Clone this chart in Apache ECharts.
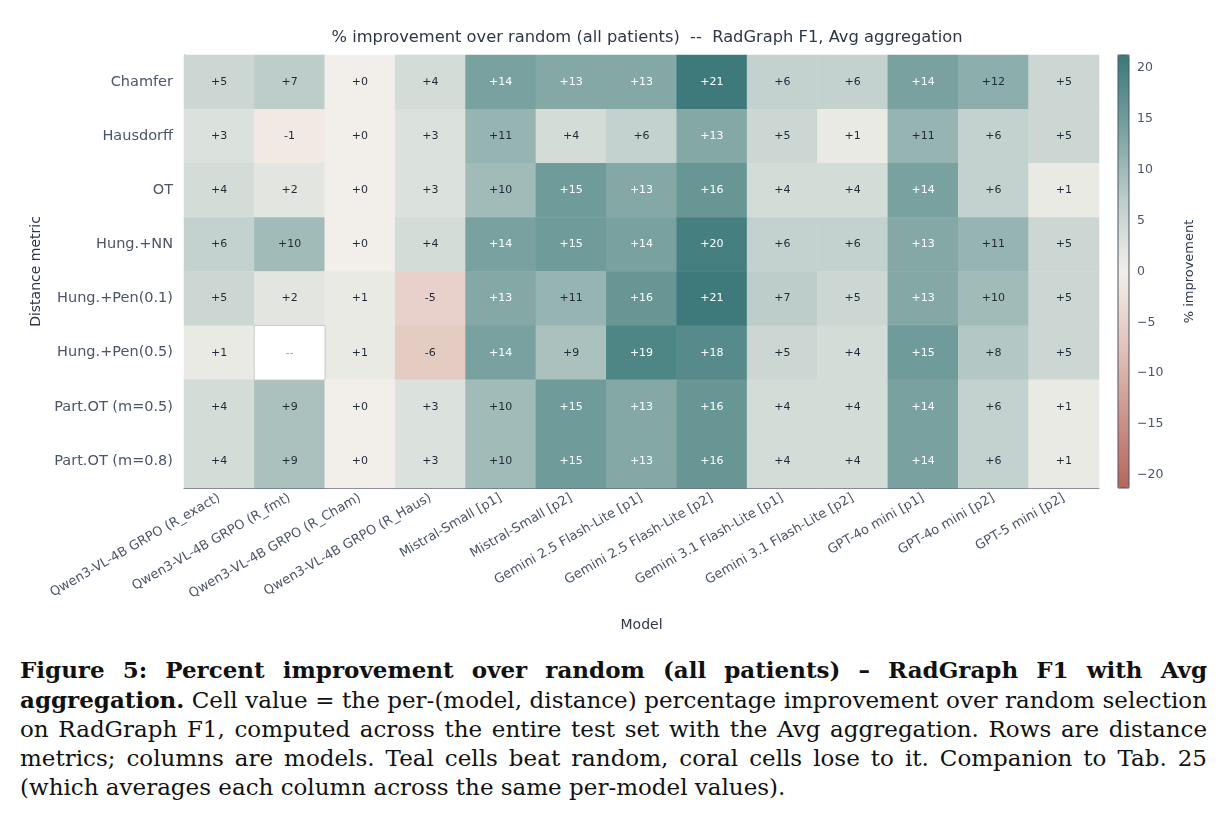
<!DOCTYPE html>
<html>
<head>
<meta charset="utf-8">
<script src="https://cdn.jsdelivr.net/npm/echarts@6/dist/echarts.min.js"></script>
<style>
  html, body { margin:0; padding:0; background:#fff; }
  #chart { position:absolute; left:0; top:0; width:1223px; height:648px; }
  #caption { position:absolute; left:20px; top:655px; width:1187px;
    font-family:"DejaVu Serif","Liberation Serif",serif; font-size:23px; line-height:29px; color:#111; }
  #caption .l { text-align:justify; text-align-last:justify; white-space:nowrap; }
  #caption .last { text-align:left; text-align-last:left; white-space:nowrap; }
</style>
</head>
<body>
<div id="chart"></div>
<div id="caption">
  <div class="l"><b>Figure 5: Percent improvement over random (all patients) – RadGraph F1 with Avg</b></div>
  <div class="l"><b>aggregation.</b> Cell value = the per-(model, distance) percentage improvement over random selection</div>
  <div class="l">on RadGraph F1, computed across the entire test set with the Avg aggregation. Rows are distance</div>
  <div class="l">metrics; columns are models. Teal cells beat random, coral cells lose to it. Companion to Tab. 25</div>
  <div class="last">(which averages each column across the same per-model values).</div>
</div>
<script>
const models = [
  'Qwen3-VL-4B GRPO (R_exact)', 'Qwen3-VL-4B GRPO (R_fmt)', 'Qwen3-VL-4B GRPO (R_Cham)',
  'Qwen3-VL-4B GRPO (R_Haus)', 'Mistral-Small [p1]', 'Mistral-Small [p2]',
  'Gemini 2.5 Flash-Lite [p1]', 'Gemini 2.5 Flash-Lite [p2]', 'Gemini 3.1 Flash-Lite [p1]',
  'Gemini 3.1 Flash-Lite [p2]', 'GPT-4o mini [p1]', 'GPT-4o mini [p2]', 'GPT-5 mini [p2]'
];
const metrics = ['Chamfer', 'Hausdorff', 'OT', 'Hung.+NN', 'Hung.+Pen(0.1)', 'Hung.+Pen(0.5)', 'Part.OT (m=0.5)', 'Part.OT (m=0.8)'];
const rowChamfer   = [5, 7, 0, 4, 14, 13, 13, 21, 6, 6, 14, 12, 5];
const rowHausdorff = [3, -1, 0, 3, 11, 4, 6, 13, 5, 1, 11, 6, 5];
const rowOT        = [4, 2, 0, 3, 10, 15, 13, 16, 4, 4, 14, 6, 1];
const rowHungNN    = [6, 10, 0, 4, 14, 15, 14, 20, 6, 6, 13, 11, 5];
const rowHungPen01 = [5, 2, 1, -5, 13, 11, 16, 21, 7, 5, 13, 10, 5];
const rowHungPen05 = [1, null, 1, -6, 14, 9, 19, 18, 5, 4, 15, 8, 5];
const rowPartOT05  = [4, 9, 0, 3, 10, 15, 13, 16, 4, 4, 14, 6, 1];
const rowPartOT08  = [4, 9, 0, 3, 10, 15, 13, 16, 4, 4, 14, 6, 1];
const rows = [rowChamfer, rowHausdorff, rowOT, rowHungNN, rowHungPen01, rowHungPen05, rowPartOT05, rowPartOT08];
const colorbarTicks = [-20, -15, -10, -5, 0, 5, 10, 15, 20];
const vLimit = 21.3;

const cells = [], missing = [];
rows.forEach((r, yi) => r.forEach((v, xi) => {
  if (v === null) { missing.push([xi, yi, 0]); return; }
  cells.push({ value: [xi, yi, v], label: { color: Math.abs(v) >= 13 ? '#ffffff' : '#1f2937' } });
}));

const axisCol = '#4a5568';
const font = 'DejaVu Sans';
const chart = echarts.init(document.getElementById('chart'));
chart.setOption({
  animation: false,
  textStyle: { fontFamily: font },
  title: {
    text: '% improvement over random (all patients)  --  RadGraph F1, Avg aggregation',
    left: 642, top: 25, textAlign: 'center',
    textStyle: { fontFamily: font, fontSize: 16.3, fontWeight: 'normal', color: '#2d3748' }
  },
  grid: [
    { left: 184, top: 55, width: 915, height: 433 },
    { left: 1118, top: 55, width: 11, height: 433, show: true, borderColor: '#4a5568', borderWidth: 1, backgroundColor: 'transparent', z: 10 }
  ],
  xAxis: [
    { type: 'category', data: models, gridIndex: 0,
      axisLine: { lineStyle: { color: '#6b7280' } },
      axisTick: { alignWithLabel: true, length: 5, lineStyle: { color: '#6b7280' } },
      axisLabel: { rotate: 30, fontSize: 13, color: axisCol, margin: 9, interval: 0 },
      name: 'Model', nameLocation: 'middle', nameGap: 130,
      nameTextStyle: { fontSize: 14, color: '#2d3748' },
      splitLine: { show: false } },
    { type: 'value', gridIndex: 1, show: false, min: 0, max: 1 }
  ],
  yAxis: [
    { type: 'category', data: metrics, inverse: true, gridIndex: 0,
      axisLine: { lineStyle: { color: '#6b7280' } },
      axisTick: { alignWithLabel: true, length: 5, lineStyle: { color: '#6b7280' } },
      axisLabel: { fontSize: 14.5, color: axisCol, margin: 11 },
      name: 'Distance metric', nameLocation: 'middle', nameGap: 140, nameRotate: 90,
      nameTextStyle: { fontSize: 14, color: '#2d3748' } },
    { type: 'value', gridIndex: 1, position: 'right', min: -vLimit, max: vLimit,
      axisLine: { show: false },
      axisTick: { show: true, length: 4, customValues: colorbarTicks, lineStyle: { color: '#4a5568' } },
      axisLabel: { customValues: colorbarTicks, fontSize: 12.5, color: axisCol, margin: 8,
        formatter: v => String(v).replace('-', '\u2212') },
      splitLine: { show: false },
      name: '% improvement', nameLocation: 'middle', nameGap: 54, nameRotate: 90,
      nameTextStyle: { fontSize: 13, color: '#2d3748' } }
  ],
  visualMap: {
    type: 'continuous', min: -vLimit, max: vLimit, seriesIndex: 0,
    orient: 'vertical', left: 1118, top: 55, itemWidth: 11, itemHeight: 433,
    calculable: false, padding: 0, text: null, showLabel: false,
    inRange: { color: ['#b5665a', '#cc958b', '#e3c5bc', '#f2efea', '#bccdca', '#77a09f', '#3b7879'] }
  },
  series: [
    { type: 'heatmap', xAxisIndex: 0, yAxisIndex: 0, data: cells,
      label: { show: true, fontSize: 11, fontFamily: font,
        formatter: p => (p.value[2] >= 0 ? '+' : '') + p.value[2] },
      emphasis: { disabled: true } },
    { type: 'heatmap', xAxisIndex: 0, yAxisIndex: 0, data: missing,
      itemStyle: { color: '#ffffff', borderColor: '#c8c8c8', borderWidth: 1 },
      label: { show: true, fontSize: 11, color: '#9ca3af', formatter: () => '--' },
      emphasis: { disabled: true } }
  ]
});
</script>
</body>
</html>
